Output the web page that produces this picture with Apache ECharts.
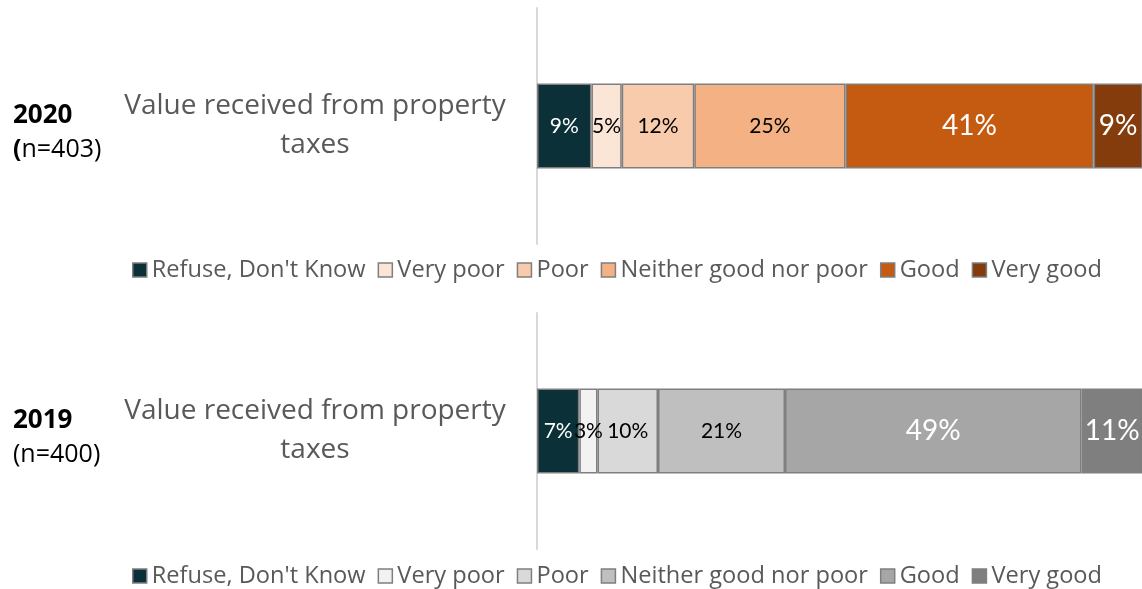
<!DOCTYPE html>
<html>
<head>
<meta charset="utf-8">
<script src="https://cdn.jsdelivr.net/npm/echarts@6/dist/echarts.min.js"></script>
<style>
  html, body { margin: 0; padding: 0; background: #ffffff; }
  #chart { width: 1142px; height: 589px; }
</style>
</head>
<body>
<div id="chart"></div>
<script>
// Survey question shown on each panel
const categories = ['Value received from property taxes'];

// Response scale (legend entries)
const responses = ['Refuse, Don\'t Know', 'Very poor', 'Poor', 'Neither good nor poor', 'Good', 'Very good'];

// Percent of respondents per response, by survey year
const values2020 = [9, 5, 12, 25, 41, 9];
const values2019 = [7, 3, 10, 21, 49, 11];

// Panel headings
const years = ['2020', '2019'];
const sampleSizes = ['403', '400'];

// Segment palettes
const colors2020 = ['#0b3038', '#fbe5d6', '#f8cbad', '#f4b183', '#c55a11', '#843c0c'];
const colors2019 = ['#0b3038', '#f2f2f2', '#d9d9d9', '#bfbfbf', '#a6a6a6', '#7f7f7f'];
const labelColors = ['#ffffff', '#000000', '#000000', '#000000', '#ffffff', '#ffffff'];
const labelSizes = [21, 21, 21, 21, 28, 28];

const LABEL_FONT = 'Lato, "Open Sans", sans-serif';
const TEXT_FONT = '"Open Sans", "Noto Sans", sans-serif';
const chart = echarts.init(document.getElementById('chart'), null, { renderer: 'canvas' });

function panelSeries(prefix, values, colors, idx) {
  return responses.map((r, i) => ({
    name: prefix + '|' + r,
    type: 'bar',
    stack: 'panel' + idx,
    xAxisIndex: idx,
    yAxisIndex: idx,
    barWidth: 85,
    data: [values[i]],
    itemStyle: { color: colors[i], borderColor: '#7f7f7f', borderWidth: 1.5 },
    label: {
      show: true,
      position: 'inside',
      formatter: '{c}%',
      color: labelColors[i],
      fontSize: labelSizes[i],
      fontFamily: LABEL_FONT
    },
    emphasis: { disabled: true }
  }));
}

function legendFor(prefix, top) {
  return {
    top: top,
    left: 127,
    itemWidth: 14,
    itemHeight: 14,
    itemGap: 12,
    icon: 'rect',
    selectedMode: false,
    itemStyle: { borderColor: '#7f7f7f', borderWidth: 1.5 },
    textStyle: { color: '#595959', fontSize: 23.6, fontFamily: TEXT_FONT },
    data: responses.map(r => prefix + '|' + r),
    formatter: name => name.split('|')[1]
  };
}

const gridTops = [8, 313];
const yAxisCommon = {
  type: 'category',
  data: categories,
  axisLine: { show: true, lineStyle: { color: '#d9d9d9', width: 2 } },
  axisTick: { show: false },
  axisLabel: {
    align: 'center',
    margin: 222,
    color: '#595959',
    fontSize: 28,
    lineHeight: 39,
    fontFamily: TEXT_FONT,
    formatter: v => v.replace(' taxes', '\ntaxes')
  }
};
const xAxisCommon = {
  type: 'value',
  min: 0,
  max: 100,
  show: false
};

const headingGraphics = [];
years.forEach((y, i) => {
  const centre = gridTops[i] + 118;
  headingGraphics.push({
    type: 'text',
    left: 13,
    top: centre - 23,
    style: { text: y, font: 'bold 26px ' + TEXT_FONT, fill: '#000000' }
  });
  headingGraphics.push({
    type: 'text',
    left: 13,
    top: centre + 11,
    style: {
      text: (i === 0 ? '{b|(}' : '{n|(}') + '{n|n=' + sampleSizes[i] + ')}',
      rich: {
        b: { font: 'bold 25px ' + TEXT_FONT, fill: '#000000' },
        n: { font: '25px ' + TEXT_FONT, fill: '#000000' }
      }
    }
  });
});

chart.setOption({
  animation: false,
  backgroundColor: '#ffffff',
  grid: [
    { left: 537, right: -11, top: gridTops[0], height: 236 },
    { left: 537, right: -11, top: gridTops[1], height: 236 }
  ],
  xAxis: [
    Object.assign({ gridIndex: 0 }, xAxisCommon),
    Object.assign({ gridIndex: 1 }, xAxisCommon)
  ],
  yAxis: [
    Object.assign({ gridIndex: 0 }, yAxisCommon),
    Object.assign({ gridIndex: 1 }, yAxisCommon)
  ],
  legend: [legendFor('2020', 253), legendFor('2019', 559)],
  graphic: headingGraphics,
  series: panelSeries('2020', values2020, colors2020, 0)
    .concat(panelSeries('2019', values2019, colors2019, 1))
});
</script>
</body>
</html>
